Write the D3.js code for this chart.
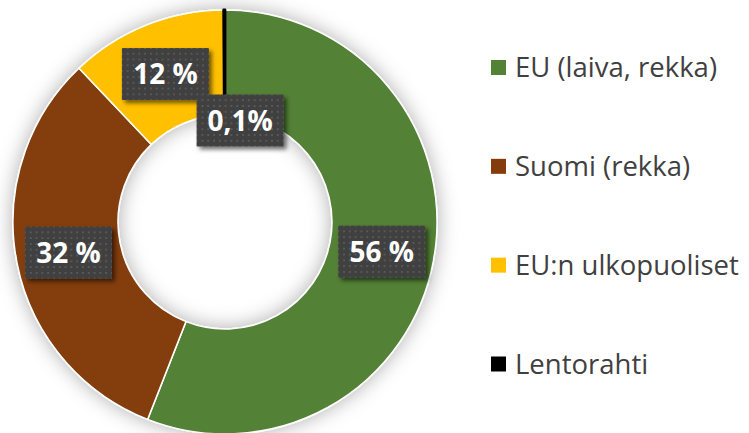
<!DOCTYPE html>
<html>
<head>
<meta charset="utf-8">
<script src="https://cdn.jsdelivr.net/npm/d3@7/dist/d3.min.js"></script>
<style>
  html, body { margin: 0; padding: 0; background: #ffffff; }
  svg { display: block; }
</style>
</head>
<body>
<svg id="chart" width="749" height="433"></svg>
<script>
// ---- data ----
const categories = ["EU (laiva, rekka)", "Suomi (rekka)", "EU:n ulkopuoliset", "Lentorahti"];
const values = [56, 32, 12, 0.1];
const valueLabels = ["56 %", "32 %", "12 %", "0,1%"];
const colors = ["#538135", "#843C0C", "#FFC000", "#000000"];

// ---- layout ----
const W = 749, H = 433;
const cx = 225, cy = 222;
const outerR = 212, innerR = 107;

const svg = d3.select("#chart");
svg.append("rect").attr("width", W).attr("height", H).attr("fill", "#ffffff");

const defs = svg.append("defs");

// dotted pattern for the label boxes
const pat = defs.append("pattern")
  .attr("id", "dots").attr("patternUnits", "userSpaceOnUse")
  .attr("width", 5.8).attr("height", 5.8);
pat.append("rect").attr("width", 5.8).attr("height", 5.8).attr("fill", "#404040");
pat.append("rect").attr("x", 2).attr("y", 2).attr("width", 1.8).attr("height", 1.8).attr("fill", "#5c5c5c");

// soft glow around the ring
const glow = defs.append("filter").attr("id", "glow")
  .attr("x", "-20%").attr("y", "-20%").attr("width", "140%").attr("height", "140%");
glow.append("feGaussianBlur").attr("in", "SourceAlpha").attr("stdDeviation", 10).attr("result", "b");
glow.append("feFlood").attr("flood-color", "#000").attr("flood-opacity", 0.32).attr("result", "c");
glow.append("feComposite").attr("in", "c").attr("in2", "b").attr("operator", "in").attr("result", "s");
const gm = glow.append("feMerge");
gm.append("feMergeNode").attr("in", "s");
gm.append("feMergeNode").attr("in", "SourceGraphic");

// shadow for label boxes
const bsh = defs.append("filter").attr("id", "boxShadow")
  .attr("x", "-20%").attr("y", "-20%").attr("width", "150%").attr("height", "160%");
bsh.append("feGaussianBlur").attr("in", "SourceAlpha").attr("stdDeviation", 2).attr("result", "b");
bsh.append("feOffset").attr("in", "b").attr("dx", 3).attr("dy", 3).attr("result", "o");
bsh.append("feFlood").attr("flood-color", "#000").attr("flood-opacity", 0.55).attr("result", "c");
bsh.append("feComposite").attr("in", "c").attr("in2", "o").attr("operator", "in").attr("result", "s");
const bm = bsh.append("feMerge");
bm.append("feMergeNode").attr("in", "s");
bm.append("feMergeNode").attr("in", "SourceGraphic");

const pie = d3.pie().sort(null).value(d => d)(values);
const arc = d3.arc().innerRadius(innerR).outerRadius(outerR);

const g = svg.append("g").attr("transform", `translate(${cx},${cy})`);

const ring = g.append("g").attr("filter", "url(#glow)");
ring.selectAll("path")
  .data(pie)
  .join("path")
  .attr("d", arc)
  .attr("fill", (d, i) => colors[i])
  .attr("stroke", (d, i) => i === 3 ? colors[i] : "#ffffff")
  .attr("stroke-width", (d, i) => i === 3 ? 2.8 : 1.5)
  .attr("stroke-linejoin", "round");

// labels
const boxW = 87, boxH = 52;
const smallSliceShift = [15.6, 58]; // manual nudge for the tiny slice label
const lab = g.selectAll("g.lab")
  .data(pie)
  .join("g")
  .attr("class", "lab")
  .attr("transform", (d, i) => {
    const [x, y] = arc.centroid(d);
    const s = i === 3 ? smallSliceShift : [0, 0];
    return `translate(${x + s[0]},${y + s[1]})`;
  });
lab.append("rect")
  .attr("x", -boxW / 2).attr("y", -boxH / 2)
  .attr("width", boxW).attr("height", boxH)
  .attr("fill", "url(#dots)")
  .attr("filter", "url(#boxShadow)");
lab.append("text")
  .attr("text-anchor", "middle")
  .attr("y", 10)
  .attr("font-family", "'Open Sans', sans-serif")
  .attr("font-weight", 700)
  .attr("font-size", 28)
  .attr("fill", "#ffffff")
  .text((d, i) => valueLabels[i]);

// legend
const ly = d3.scaleLinear().domain([0, 3]).range([67.5, 364]);
const leg = svg.append("g").selectAll("g")
  .data(categories)
  .join("g")
  .attr("transform", (d, i) => `translate(491,${ly(i)})`);
leg.append("rect")
  .attr("x", 0).attr("y", -7.5)
  .attr("width", 15).attr("height", 15)
  .attr("fill", (d, i) => colors[i]);
leg.append("text")
  .attr("x", 24).attr("y", 9.5)
  .attr("font-family", "'Open Sans', sans-serif")
  .attr("font-size", 27.5)
  .attr("fill", "#404040")
  .text(d => d);
</script>
</body>
</html>
